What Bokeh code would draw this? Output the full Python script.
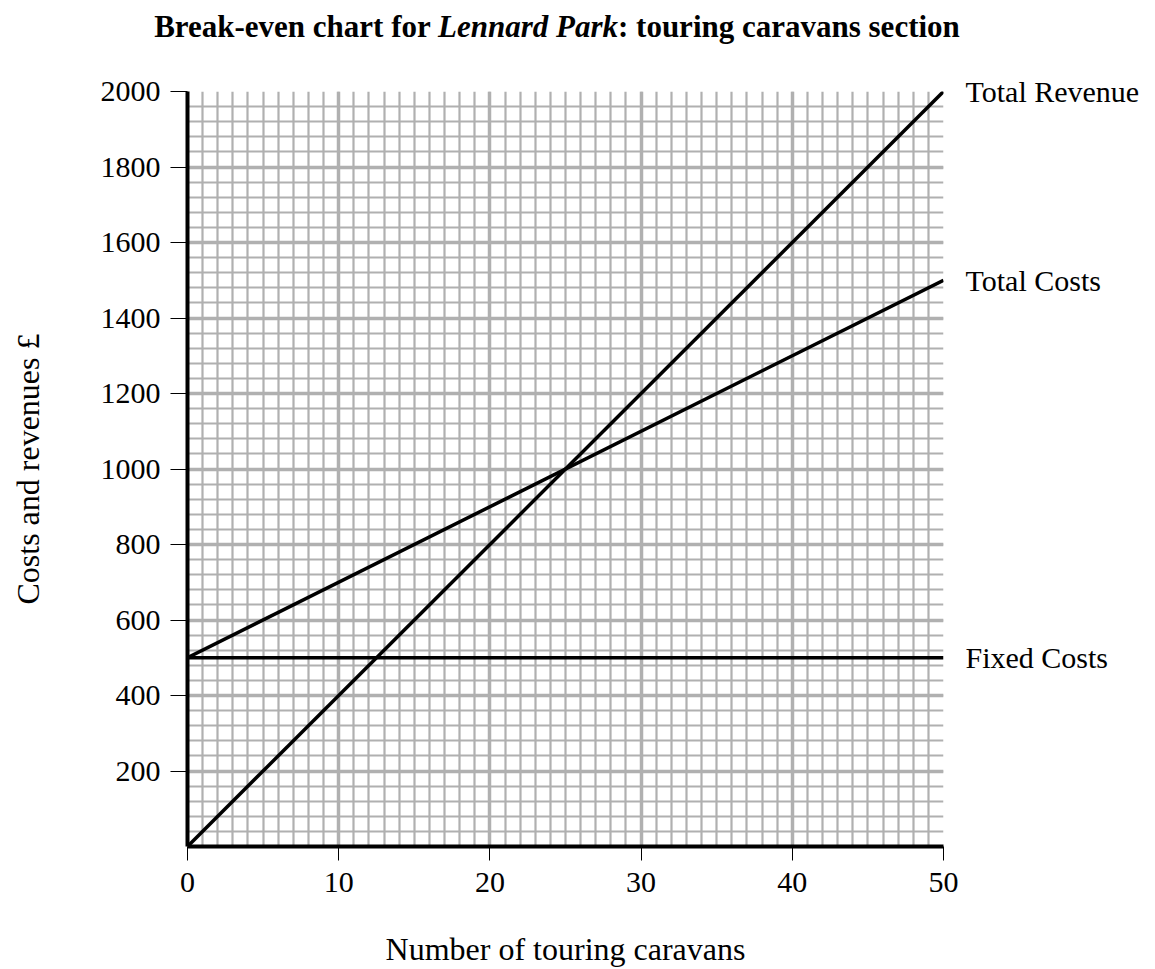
from bokeh.plotting import figure
from bokeh.models import (Range1d, SingleIntervalTicker, FixedTicker, LinearAxis, Div)
from bokeh.layouts import column
from bokeh.embed import file_html
from bokeh.resources import INLINE

# ---- data ----
caravans = [0, 50]
fixed_costs = [500, 500]
total_costs = [500, 1500]
total_revenue = [0, 2000]
series_names = ["Total Revenue", "Total Costs", "Fixed Costs"]
x_ticks = [0, 10, 20, 30, 40, 50]
y_ticks = [200, 400, 600, 800, 1000, 1200, 1400, 1600, 1800, 2000]
title_parts = ["Break-even chart for ", "Lennard Park", ": touring caravans section"]

FONT = "Liberation Serif"
GRID = "#b0b0b0"
TITLE_H = 50

title = Div(
    text=f"<b>{title_parts[0]}<i>{title_parts[1]}</i>{title_parts[2]}</b>",
    width=1114, height=TITLE_H, margin=(0, 0, 0, 0),
    styles={"font-family": FONT, "font-size": "31px", "line-height": "31px",
            "text-align": "center", "color": "black", "padding-top": "11px",
            "white-space": "nowrap", "width": "1114px"})

p = figure(width=1147, height=969 - TITLE_H, output_backend="svg", toolbar_location=None,
           x_range=Range1d(0, 50), y_range=Range1d(0, 2000), margin=(0, 0, 0, 0))
p.min_border_left = 187
p.min_border_right = 204
p.min_border_top = 91 - TITLE_H
p.min_border_bottom = 969 - TITLE_H - (91 - TITLE_H) - 757
p.outline_line_color = None
p.background_fill_color = "white"
p.border_fill_color = "white"

# grids
p.xgrid.ticker = SingleIntervalTicker(interval=10, num_minor_ticks=10)
p.ygrid.ticker = SingleIntervalTicker(interval=200, num_minor_ticks=5)
for g in (p.xgrid, p.ygrid):
    g.grid_line_color = GRID
    g.grid_line_width = 3.5
    g.minor_grid_line_color = GRID
    g.minor_grid_line_width = 2.2
    g.level = "underlay"

# axes
xa = p.xaxis[0]
xa.ticker = FixedTicker(ticks=x_ticks)
xa.axis_line_width = 4
xa.axis_line_color = "black"
xa.major_tick_out = 14
xa.major_tick_in = 0
xa.major_tick_line_width = 1
xa.minor_tick_line_color = None
xa.major_label_standoff = 12
xa.major_label_text_font = FONT
xa.major_label_text_font_size = "30px"
xa.major_label_text_color = "black"
xa.axis_label = "Number of touring caravans"
xa.axis_label_text_font = FONT
xa.axis_label_text_font_style = "normal"
xa.axis_label_text_font_size = "32px"
xa.axis_label_text_color = "black"
xa.axis_label_standoff = 36

ya = p.yaxis[0]
ya.ticker = FixedTicker(ticks=y_ticks)
ya.axis_line_width = 4
ya.axis_line_color = "black"
ya.major_tick_out = 17
ya.major_tick_in = 0
ya.major_tick_line_width = 1
ya.minor_tick_line_color = None
ya.major_label_standoff = 10
ya.major_label_text_font = FONT
ya.major_label_text_font_size = "30px"
ya.major_label_text_color = "black"
ya.axis_label = "Costs and revenues £"
ya.axis_label_text_font = FONT
ya.axis_label_text_font_style = "normal"
ya.axis_label_text_font_size = "32px"
ya.axis_label_text_color = "black"
ya.axis_label_standoff = 52

# right-hand axis carrying the line names at their end values
end_values = [total_revenue[-1], total_costs[-1], fixed_costs[-1]]
ra = LinearAxis(ticker=FixedTicker(ticks=end_values),
                major_label_overrides={v: n for v, n in zip(end_values, series_names)})
ra.axis_line_color = None
ra.major_tick_line_color = None
ra.minor_tick_line_color = None
ra.major_tick_out = 0
ra.major_tick_in = 0
ra.major_label_standoff = 22
ra.major_label_text_font = FONT
ra.major_label_text_font_size = "30px"
ra.major_label_text_color = "black"
p.add_layout(ra, "right")

# lines
for ys in (total_revenue, total_costs, fixed_costs):
    p.line(caravans, ys, line_color="black", line_width=3.5)

layout = column(title, p, margin=(0, 0, 0, 0), spacing=0)
open("out.html", "w").write(file_html(layout, INLINE))
